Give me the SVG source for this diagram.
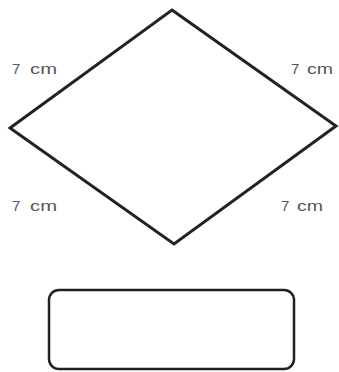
<svg xmlns="http://www.w3.org/2000/svg" width="339" height="372" viewBox="0 0 339 372">
<style>
.lbl{font-family:"Liberation Sans",Arial,sans-serif;font-size:15px;fill:#555}
.shape{fill:none;stroke:#222;stroke-width:3;stroke-linejoin:miter}
</style>
<rect width="339" height="372" fill="#fff"/>
<g id="rhombus">
<polygon class="shape" points="172,10 336,126 174,244 10,128"/>
</g>
<g id="labels">
<text class="lbl" x="12" y="74">7 <tspan x="30" textLength="27" lengthAdjust="spacingAndGlyphs">cm</tspan></text>
<text class="lbl" x="291" y="74">7 <tspan x="307" textLength="26" lengthAdjust="spacingAndGlyphs">cm</tspan></text>
<text class="lbl" x="12" y="211">7 <tspan x="30" textLength="27" lengthAdjust="spacingAndGlyphs">cm</tspan></text>
<text class="lbl" x="281" y="211">7 <tspan x="297" textLength="26" lengthAdjust="spacingAndGlyphs">cm</tspan></text>
</g>
<g id="answer-box">
<rect x="49" y="290" width="245" height="79" rx="10" ry="10" fill="none" stroke="#222" stroke-width="2.5"/>
</g>
</svg>
